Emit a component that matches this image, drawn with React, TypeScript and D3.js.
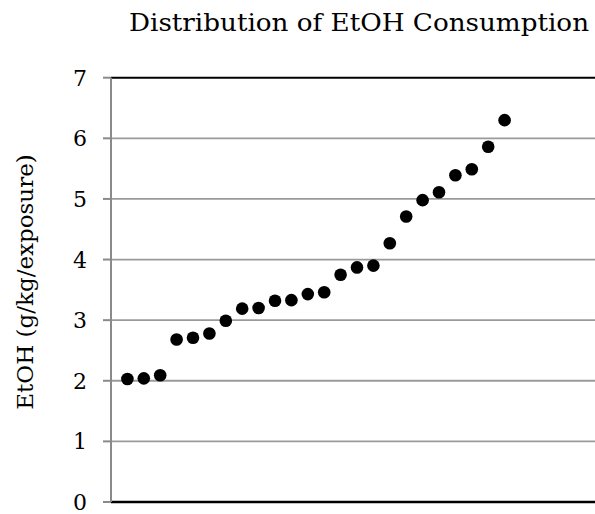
import React from "react";
import * as d3 from "d3";

const title = "Distribution of EtOH Consumption";
const yLabel = "EtOH (g/kg/exposure)";
const yTicks = [0, 1, 2, 3, 4, 5, 6, 7];
const subjects = [1, 2, 3, 4, 5, 6, 7, 8, 9, 10, 11, 12, 13, 14, 15, 16, 17, 18, 19, 20, 21, 22, 23, 24];
const consumption = [
  2.03, 2.04, 2.09, 2.68, 2.71, 2.78, 2.99, 3.19, 3.2, 3.32, 3.33, 3.43,
  3.46, 3.75, 3.87, 3.9, 4.27, 4.71, 4.98, 5.11, 5.39, 5.49, 5.86, 6.3,
];

const W = 595;
const H = 514;
const FONT = "'DejaVu Serif', serif";

export default function App() {
  const left = 111;
  const top = 77.7;
  const bottom = 502;
  const x = d3.scaleLinear().domain([0, 30]).range([left, left + 30 * 16.4]);
  const y = d3.scaleLinear().domain([0, 7]).range([bottom, top]);
  const right = W + 10;

  return (
    <svg
      width={W}
      height={H}
      style={{ position: "fixed", left: 0, top: 0, background: "#fff" }}
    >
      <rect x={0} y={0} width={W} height={H} fill="#fff" />
      <text
        x={589}
        y={31}
        textAnchor="end"
        fontFamily={FONT}
        fontSize={24}
        textLength={460}
        lengthAdjust="spacingAndGlyphs"
        fill="#000"
      >
        {title}
      </text>
      {yTicks
        .filter((t) => t > 0 && t < 7)
        .map((t) => (
          <line
            key={"g" + t}
            x1={left}
            x2={right}
            y1={y(t)}
            y2={y(t)}
            stroke="#9a9a9a"
            strokeWidth={1.8}
          />
        ))}
      <line x1={left} x2={right} y1={y(7)} y2={y(7)} stroke="#000" strokeWidth={2} />
      <line x1={left} x2={right} y1={y(0)} y2={y(0)} stroke="#000" strokeWidth={2.6} />
      <line x1={left} x2={left} y1={y(7)} y2={y(0)} stroke="#8a8a8a" strokeWidth={2} />
      {yTicks.map((t) => (
        <g key={"t" + t}>
          <line x1={left - 8} x2={left} y1={y(t)} y2={y(t)} stroke="#8a8a8a" strokeWidth={2} />
          <text
            x={87}
            y={y(t) + 8}
            textAnchor="end"
            fontFamily={FONT}
            fontSize={22}
            fill="#000"
          >
            {t}
          </text>
        </g>
      ))}
      <text
        transform={`translate(33,282) rotate(-90)`}
        textAnchor="middle"
        fontFamily={FONT}
        fontSize={23}
        fill="#000"
      >
        {yLabel}
      </text>
      {consumption.map((v, i) => (
        <circle key={i} cx={x(subjects[i])} cy={y(v)} r={6.3} fill="#000" />
      ))}
    </svg>
  );
}
